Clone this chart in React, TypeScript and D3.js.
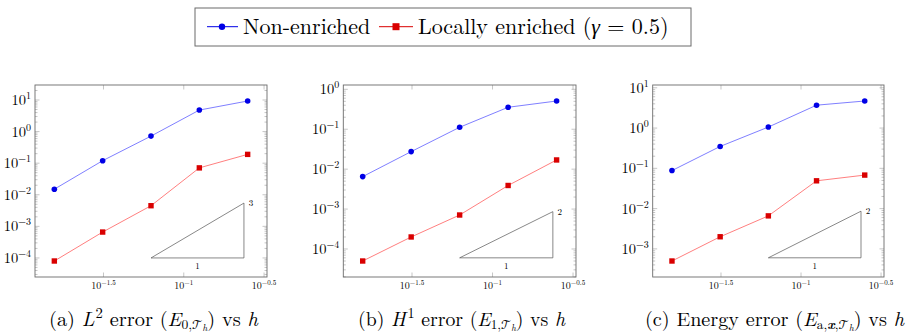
import React from "react";
import * as d3 from "d3";

// mesh sizes h
const hValues = [1 / 64, 1 / 32, 1 / 16, 1 / 8, 1 / 4];

// (a) L2 error
const l2NonEnriched = [0.015, 0.12, 0.72, 4.8, 9.3];
const l2Enriched = [8.0e-5, 6.6e-4, 4.5e-3, 0.071, 0.19];
// (b) H1 error
const h1NonEnriched = [6.5e-3, 0.0275, 0.112, 0.355, 0.51];
const h1Enriched = [5.0e-5, 2.0e-4, 7.1e-4, 3.9e-3, 0.017];
// (c) energy error
const energyNonEnriched = [0.088, 0.35, 1.06, 3.7, 4.7];
const energyEnriched = [5.0e-4, 2.0e-3, 6.6e-3, 0.049, 0.068];

const xTickExponents = [-1.5, -1, -0.5];
const xTickLabels = ["\u22121.5", "\u22121", "\u22120.5"];

// slope triangles: h range, base value, slope
const triangleH = [1 / 16, 0.237];
const triangleBases = [1e-4, 6e-5, 6e-4];
const triangleSlopes = [3, 2, 2];

const legendLabels = ["Non-enriched", "Locally enriched ("];

const LM = { fontFamily: "Latin Modern Roman" };
const BLUE = "#0000e6";
const BLUE_LINE = "#7070ff";
const RED = "#d90000";
const RED_LINE = "#ff7070";
const FRAME = "#6b6b6b";
const TICK = "#a0a0a0";

const TOP = 85;
const BOTTOM = 277;

const panels = [
  { nonEnriched: l2NonEnriched, enriched: l2Enriched, left: 35, right: 267, captionX: 49, captionW: 209 },
  { nonEnriched: h1NonEnriched, enriched: h1Enriched, left: 343.3, right: 576, captionX: 358, captionW: 207 },
  { nonEnriched: energyNonEnriched, enriched: energyEnriched, left: 652.7, right: 884, captionX: 645, captionW: 259 },
];

function padLog(values: number[]) {
  const [lo, hi] = d3.extent(values.map(Math.log10)) as [number, number];
  const pad = (hi - lo) * 0.1;
  return [Math.pow(10, lo - pad), Math.pow(10, hi + pad)];
}

function Caption({ idx, x, w }: { idx: number; x: number; w: number }) {
  const script = (
    <>
      <tspan fontSize={13} style={{ fontFamily: "Latin Modern Math, Latin Modern Roman" }}>{"\u{1D4AF}"}</tspan>
      <tspan fontStyle="italic" fontSize={9} dy={2}>h</tspan>
    </>
  );
  let body;
  if (idx === 0) {
    body = (
      <>
        <tspan>(a) </tspan>
        <tspan fontStyle="italic">L</tspan>
        <tspan fontSize={14} dx={1} dy={-8}>2</tspan>
        <tspan dy={8}> error (</tspan>
        <tspan fontStyle="italic">E</tspan>
        <tspan fontSize={13} dy={3}>0,</tspan>
        {script}
        <tspan dy={-5}>) vs </tspan>
        <tspan fontStyle="italic">h</tspan>
      </>
    );
  } else if (idx === 1) {
    body = (
      <>
        <tspan>(b) </tspan>
        <tspan fontStyle="italic">H</tspan>
        <tspan fontSize={14} dx={2} dy={-8}>1</tspan>
        <tspan dy={8}> error (</tspan>
        <tspan fontStyle="italic">E</tspan>
        <tspan fontSize={13} dy={3}>1,</tspan>
        {script}
        <tspan dy={-5}>) vs </tspan>
        <tspan fontStyle="italic">h</tspan>
      </>
    );
  } else {
    body = (
      <>
        <tspan>(c) Energy error (</tspan>
        <tspan fontStyle="italic">E</tspan>
        <tspan fontSize={13} dy={3}>a,</tspan>
        <tspan fontSize={13} fontStyle="italic" fontWeight="bold">x</tspan>
        <tspan fontSize={13}>,</tspan>
        {script}
        <tspan dy={-5}>) vs </tspan>
        <tspan fontStyle="italic">h</tspan>
      </>
    );
  }
  return (
    <text
      x={x}
      y={326}
      textLength={w}
      lengthAdjust="spacingAndGlyphs"
      style={{ ...LM, fontSize: 19.5 }}
      fill="#000"
    >
      {body}
    </text>
  );
}

function Panel({ p, idx }: { p: (typeof panels)[number]; idx: number }) {
  const xDomain = padLog(hValues);
  const yDomain = padLog([...p.nonEnriched, ...p.enriched]);
  const x = d3.scaleLog().domain(xDomain).range([p.left, p.right]);
  const y = d3.scaleLog().domain(yDomain).range([BOTTOM, TOP]);

  const lo = Math.floor(Math.log10(yDomain[0]));
  const hi = Math.ceil(Math.log10(yDomain[1]));
  const major: number[] = [];
  const minor: number[] = [];
  for (let e = lo; e <= hi; e++) {
    const v = Math.pow(10, e);
    if (v >= yDomain[0] && v <= yDomain[1]) major.push(e);
    for (let k = 2; k <= 9; k++) {
      const m = k * v;
      if (m >= yDomain[0] && m <= yDomain[1]) minor.push(m);
    }
  }

  const line = d3
    .line<number>()
    .x((_, i) => x(hValues[i]))
    .y((d) => y(d));

  const [t0, t1] = triangleH;
  const tb = triangleBases[idx];
  const ts = triangleSlopes[idx];
  const tTop = tb * Math.pow(t1 / t0, ts);
  const tri = `M${x(t0)},${y(tb)}L${x(t1)},${y(tb)}L${x(t1)},${y(tTop)}Z`;

  return (
    <g>
      {minor.map((m, i) => (
        <g key={"mn" + i} stroke={TICK} strokeWidth={0.6}>
          <line x1={p.left} x2={p.left + 2.5} y1={y(m)} y2={y(m)} />
          <line x1={p.right} x2={p.right - 2.5} y1={y(m)} y2={y(m)} />
        </g>
      ))}
      {major.map((e) => (
        <g key={"mj" + e}>
          <line x1={p.left} x2={p.left + 4.5} y1={y(Math.pow(10, e))} y2={y(Math.pow(10, e))} stroke={TICK} strokeWidth={0.6} />
          <line x1={p.right} x2={p.right - 4.5} y1={y(Math.pow(10, e))} y2={y(Math.pow(10, e))} stroke={TICK} strokeWidth={0.6} />
          <text x={p.left - 4} y={y(Math.pow(10, e)) + 5} textAnchor="end" style={{ ...LM, fontSize: 14.5 }}>
            <tspan>10</tspan>
            <tspan fontSize={10} dy={-6}>{e < 0 ? "\u2212" + -e : String(e)}</tspan>
          </text>
        </g>
      ))}
      {xTickExponents.map((e, i) => {
        const xv = x(Math.pow(10, e));
        return (
          <g key={"xt" + i}>
            <line x1={xv} x2={xv} y1={BOTTOM} y2={BOTTOM - 4.5} stroke={TICK} strokeWidth={0.6} />
            <line x1={xv} x2={xv} y1={TOP} y2={TOP + 4.5} stroke={TICK} strokeWidth={0.6} />
            <text x={xv} y={289} textAnchor="middle" style={{ ...LM, fontSize: 10 }}>
              <tspan>10</tspan>
              <tspan fontSize={7} dy={-4}>{xTickLabels[i]}</tspan>
            </text>
          </g>
        );
      })}

      <path d={tri} fill="none" stroke="#555" strokeWidth={0.7} />
      <text x={x(t1) + 7} y={y(tTop) + 3} textAnchor="middle" style={{ ...LM, fontSize: 9 }}>
        {ts}
      </text>
      <text x={(x(t0) + x(t1)) / 2} y={y(tb) + 11} textAnchor="middle" style={{ ...LM, fontSize: 9 }}>
        1
      </text>

      <path d={line(p.nonEnriched) || ""} fill="none" stroke={BLUE_LINE} strokeWidth={0.9} />
      <path d={line(p.enriched) || ""} fill="none" stroke={RED_LINE} strokeWidth={0.9} />
      {p.nonEnriched.map((v, i) => (
        <circle key={"b" + i} cx={x(hValues[i])} cy={y(v)} r={2.8} fill={BLUE} />
      ))}
      {p.enriched.map((v, i) => (
        <rect key={"r" + i} x={x(hValues[i]) - 2.7} y={y(v) - 2.7} width={5.4} height={5.4} fill={RED} />
      ))}

      <rect x={p.left} y={TOP} width={p.right - p.left} height={BOTTOM - TOP} fill="none" stroke={FRAME} strokeWidth={0.9} />

      <Caption idx={idx} x={p.captionX} w={p.captionW} />
    </g>
  );
}

function Legend() {
  return (
    <g style={{ ...LM, fontSize: 22 }}>
      <rect x={195} y={8} width={496} height={38} fill="#fff" stroke={FRAME} strokeWidth={1} />
      <line x1={207} x2={238} y1={26.7} y2={26.7} stroke={BLUE} strokeWidth={1} />
      <circle cx={222} cy={26.7} r={3.2} fill={BLUE} />
      <text x={243} y={33.5}>{legendLabels[0]}</text>
      <line x1={379} x2={413} y1={26.7} y2={26.7} stroke={RED} strokeWidth={1} />
      <rect x={392.5} y={23.2} width={7} height={7} fill={RED} />
      <text x={418} y={33.5}>
        <tspan>{legendLabels[1]}</tspan>
        <tspan fontStyle="italic">{"\u03b3"}</tspan>
        <tspan>{" = 0.5)"}</tspan>
      </text>
    </g>
  );
}

export default function App() {
  return (
    <svg width={911} height={335} style={{ position: "absolute", left: 0, top: 0, background: "#fff" }}>
      <Legend />
      {panels.map((p, i) => (
        <Panel key={i} p={p} idx={i} />
      ))}
    </svg>
  );
}
